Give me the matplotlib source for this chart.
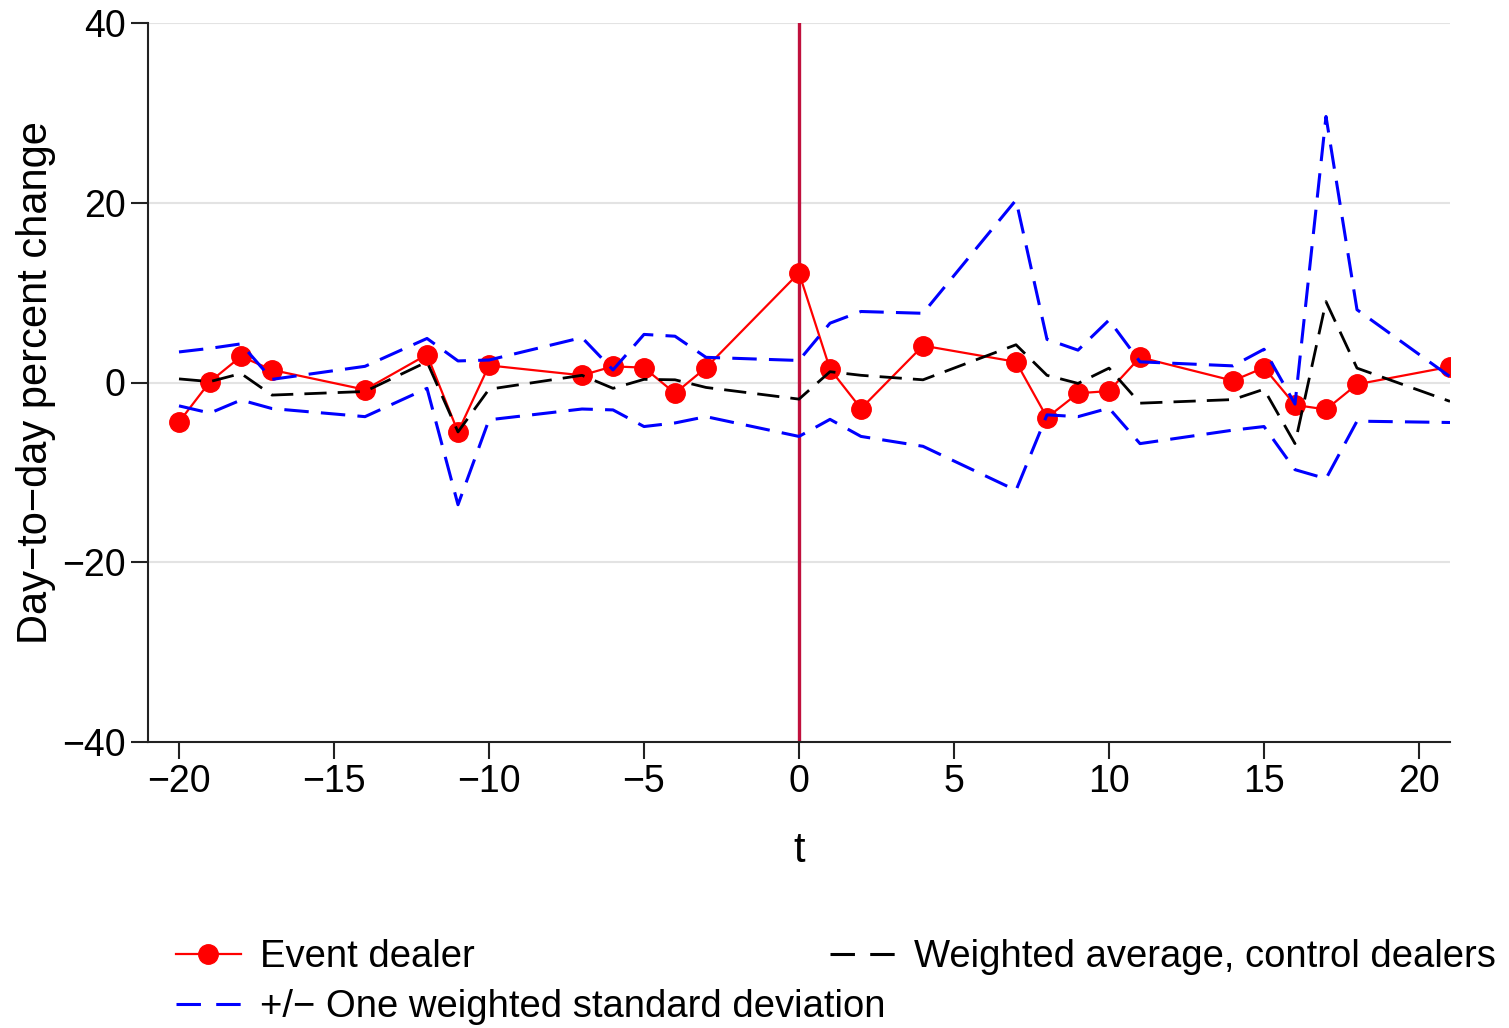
import matplotlib
matplotlib.use("Agg")
import matplotlib.pyplot as plt
from matplotlib.lines import Line2D

plt.rcParams['font.family'] = ['Liberation Sans', 'DejaVu Sans']

# event days (trading days relative to event)
t = [-20, -19, -18, -17, -14, -12, -11, -10, -7, -6, -5, -4, -3, 0,
     1, 2, 4, 7, 8, 9, 10, 11, 14, 15, 16, 17, 18, 21]

event_dealer = [-4.4, 0.1, 2.9, 1.4, -0.8, 3.1, -5.5, 1.9, 0.8, 1.8, 1.65, -1.2, 1.65, 12.2,
                1.5, -2.9, 4.1, 2.3, -3.9, -1.2, -0.95, 2.8, 0.2, 1.65, -2.5, -3.0, -0.2, 1.75]

control_avg = [0.4, 0.1, 1.0, -1.4, -1.0, 2.3, -5.5, -0.75, 0.8, -0.65, 0.35, 0.3, -0.55, -1.85,
               1.2, 0.8, 0.3, 4.2, 0.8, -0.1, 1.6, -2.3, -1.9, -0.75, -6.8, 9.0, 1.6, -2.1]

upper_sd = [3.4, 3.8, 4.3, 0.35, 1.8, 4.9, 2.4, 2.5, 5.0, 1.4, 5.35, 5.15, 2.8, 2.45,
            6.6, 7.9, 7.7, 20.3, 4.8, 3.6, 6.95, 2.3, 1.85, 3.7, -2.4, 29.6, 8.1, 0.65]

lower_sd = [-2.6, -3.4, -1.95, -2.9, -3.8, -0.65, -13.6, -4.15, -2.95, -3.05, -4.9, -4.5, -3.8, -6.0,
            -4.1, -6.0, -7.1, -12.0, -3.6, -3.8, -2.85, -6.8, -5.3, -4.9, -9.7, -10.7, -4.3, -4.45]

xticks = [-20, -15, -10, -5, 0, 5, 10, 15, 20]
yticks = [-40, -20, 0, 20, 40]

fig = plt.figure(figsize=(15.09, 10.28), dpi=100)
ax = fig.add_axes([148/1509, 1 - 742/1028, (1450-148)/1509, (742-23)/1028])

for yv in [-20, 0, 20, 40]:
    ax.axhline(yv, color='#e3e3e3', lw=1.5, zorder=0)

ax.axvline(0, color='#c0103c', lw=2.4, zorder=1)

red_col = '#ff0000'
blue_col = '#0000ff'
dash = (0, (8, 4))

ax.plot(t, event_dealer, color=red_col, lw=1.6, marker='o', markersize=14, zorder=2)
ax.plot(t, control_avg, color='black', lw=2, linestyle=dash, zorder=3)
ax.plot(t, upper_sd, color=blue_col, lw=2.2, linestyle=dash, zorder=4)
ax.plot(t, lower_sd, color=blue_col, lw=2.2, linestyle=dash, zorder=4)

ax.set_xlim(-21, 21)
ax.set_ylim(-40, 40)
ax.set_xticks(xticks)
ax.set_yticks(yticks)
ax.spines['top'].set_visible(False)
ax.spines['right'].set_visible(False)
for s in ['left', 'bottom']:
    ax.spines[s].set_linewidth(1.5)
    ax.spines[s].set_color('#222222')
ax.tick_params(axis='both', direction='out', length=12, width=1.5, color='#222222',
               labelsize=27, pad=4)

ax.set_xlabel('t', fontsize=30, labelpad=22)
ax.set_ylabel('Day\u2212to\u2212day percent change', fontsize=30)
ax.yaxis.set_label_coords(-0.071, 0.5)

h_event = Line2D([], [], color=red_col, lw=1.6, marker='o', markersize=14)
h_ctrl = Line2D([], [], color='black', lw=2.2, linestyle=(0, (8, 5)))
h_sd = Line2D([], [], color=blue_col, lw=2.2, linestyle=(0, (8, 5)))

leg_kw = dict(frameon=False, fontsize=27.5, handlelength=1.7, handletextpad=0.5,
              borderpad=0, borderaxespad=0)
fig.legend([h_event], ['Event dealer'], loc='center left',
           bbox_to_anchor=(176/1509, 1 - 957/1028), **leg_kw)
fig.legend([h_ctrl], ['Weighted average, control dealers'], loc='center left',
           bbox_to_anchor=(830/1509, 1 - 957/1028), **leg_kw)
fig.legend([h_sd], ['+/\u2212 One weighted standard deviation'], loc='center left',
           bbox_to_anchor=(176/1509, 1 - 1007/1028), **leg_kw)

fig.savefig('out.png', dpi=100)
